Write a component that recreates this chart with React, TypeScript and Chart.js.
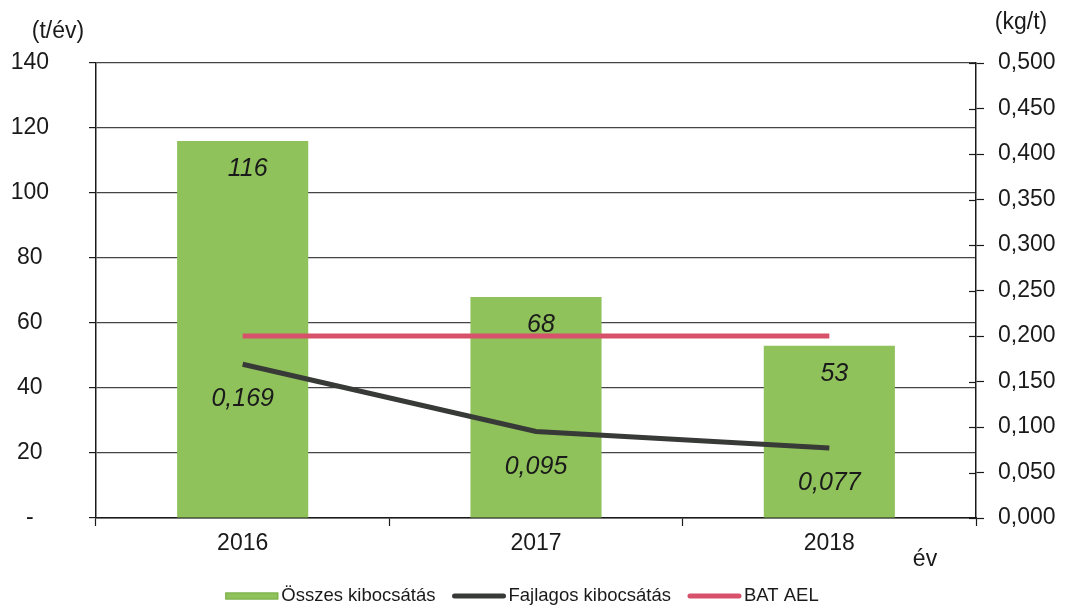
import React, { useEffect, useRef } from 'react';
import { Chart, registerables } from 'chart.js';

Chart.register(...registerables);

const years = ['2016', '2017', '2018'];
const osszesKibocsatas = [116, 68, 53];
const fajlagosKibocsatas = [0.169, 0.095, 0.077];
const batAel = [0.2, 0.2, 0.2];
const seriesNames = ['Összes kibocsátás', 'Fajlagos kibocsátás', 'BAT AEL'];
const leftAxisTitle = '(t/év)';
const rightAxisTitle = '(kg/t)';
const xAxisTitle = 'év';

const FONT = '"Liberation Sans", Arial, sans-serif';
const GREEN = '#8fc25b';
const BLACK = '#383a38';
const RED = '#d8516b';
const INK = '#1a1a1a';

const fmt3 = (v: number) => v.toFixed(3).replace('.', ',');

const annotatePlugin = {
  id: 'annotate',
  afterDatasetsDraw(chart: any) {
    const ctx = chart.ctx;
    ctx.save();
    ctx.font = `italic 25px ${FONT}`;
    ctx.fillStyle = INK;
    ctx.textAlign = 'center';
    ctx.textBaseline = 'middle';
    const barMeta = chart.getDatasetMeta(0);
    barMeta.data.forEach((el: any, i: number) => {
      ctx.fillText(String(osszesKibocsatas[i]), el.x + 5, el.y + 28);
    });
    const lineMeta = chart.getDatasetMeta(1);
    lineMeta.data.forEach((el: any, i: number) => {
      ctx.fillText(fmt3(fajlagosKibocsatas[i]), el.x, el.y + 35);
    });
    ctx.restore();
  },
  afterDraw(chart: any) {
    const ctx = chart.ctx;
    const area = chart.chartArea;
    ctx.save();
    // inner tick marks on right axis
    const y1 = chart.scales.y1;
    ctx.strokeStyle = INK;
    ctx.lineWidth = 1.2;
    y1.ticks.forEach((t: any) => {
      const py = Math.round(y1.getPixelForValue(t.value)) + 0.5;
      ctx.beginPath();
      ctx.moveTo(area.right - 7, py);
      ctx.lineTo(area.right, py);
      ctx.stroke();
    });
    // axis titles
    ctx.fillStyle = INK;
    ctx.font = `23px ${FONT}`;
    ctx.textAlign = 'center';
    ctx.textBaseline = 'middle';
    ctx.fillText(leftAxisTitle, 58, 32);
    ctx.fillText(rightAxisTitle, 1021, 23);
    ctx.fillText(xAxisTitle, 925, 560);
    // legend
    ctx.font = `18.5px ${FONT}`;
    ctx.textAlign = 'left';
    const sw = 53, gapText = 3, gapItem = 17;
    const colors = [GREEN, BLACK, RED];
    const widths = seriesNames.map((n) => ctx.measureText(n).width);
    const total = widths.reduce((a, b) => a + b, 0) + 3 * (sw + gapText) + 2 * gapItem;
    let x = 522 - total / 2;
    const cy = 596;
    seriesNames.forEach((name, i) => {
      if (i === 0) {
        ctx.fillStyle = colors[i];
        ctx.fillRect(x, cy - 3.5, sw, 7);
        ctx.strokeStyle = '#7aae4a';
        ctx.lineWidth = 1;
        ctx.strokeRect(x + 0.5, cy - 3, sw - 1, 6);
      } else {
        ctx.strokeStyle = colors[i];
        ctx.lineWidth = 5;
        ctx.lineCap = 'round';
        ctx.beginPath();
        ctx.moveTo(x + 2, cy);
        ctx.lineTo(x + sw - 2, cy);
        ctx.stroke();
      }
      ctx.fillStyle = INK;
      ctx.fillText(name, x + sw + gapText, cy);
      x += sw + gapText + widths[i] + gapItem;
    });
    ctx.restore();
  },
};

export default function App() {
  const canvasRef = useRef<HTMLCanvasElement | null>(null);

  useEffect(() => {
    if (!canvasRef.current) return;
    const chart = new Chart(canvasRef.current, {
      type: 'bar',
      data: {
        labels: years,
        datasets: [
          {
            type: 'bar',
            label: seriesNames[0],
            data: osszesKibocsatas,
            backgroundColor: GREEN,
            borderWidth: 0,
            yAxisID: 'y',
            order: 2,
            barPercentage: 0.447,
            categoryPercentage: 1,
          },
          {
            type: 'line',
            label: seriesNames[1],
            data: fajlagosKibocsatas,
            borderColor: BLACK,
            backgroundColor: BLACK,
            borderWidth: 5,
            pointRadius: 0,
            tension: 0,
            yAxisID: 'y1',
            order: 1,
          },
          {
            type: 'line',
            label: seriesNames[2],
            data: batAel,
            borderColor: RED,
            backgroundColor: RED,
            borderWidth: 5,
            pointRadius: 0,
            tension: 0,
            yAxisID: 'y1',
            order: 0,
          },
        ],
      } as any,
      options: {
        responsive: false,
        animation: false,
        layout: { padding: { left: 0, right: 0, top: 63, bottom: 48 } },
        plugins: {
          legend: { display: false },
          tooltip: { enabled: false },
          title: { display: false },
        },
        scales: {
          x: {
            offset: true,
            grid: {
              display: true,
              drawOnChartArea: false,
              drawTicks: true,
              tickLength: 8,
              tickColor: INK,
              tickWidth: 1.2,
              offset: true,
            },
            border: { display: true, color: INK, width: 1.5 },
            ticks: {
              color: INK,
              font: { family: FONT, size: 23 },
              padding: 4,
              maxRotation: 0,
            },
            afterFit(scale: any) {
              scale.height = 40;
            },
          },
          y: {
            position: 'left',
            min: 0,
            max: 140,
            grid: {
              color: '#444',
              lineWidth: 1.2,
              drawTicks: true,
              tickLength: 7,
              tickColor: INK,
              tickWidth: 1.2,
            },
            border: { display: true, color: INK, width: 1.5 },
            ticks: {
              stepSize: 20,
              color: INK,
              font: { family: FONT, size: 23 },
              crossAlign: 'center',
              padding: 40,
              callback: (v: any) => (Number(v) === 0 ? '-' : String(v)),
            },
            afterFit(scale: any) {
              scale.width = 96;
            },
          },
          y1: {
            position: 'right',
            min: 0,
            max: 0.5,
            grid: {
              drawOnChartArea: false,
              drawTicks: true,
              tickLength: 8,
              tickColor: INK,
              tickWidth: 1.2,
            },
            border: { display: true, color: INK, width: 1.5 },
            ticks: {
              stepSize: 0.05,
              color: INK,
              font: { family: FONT, size: 23 },
              padding: 14,
              callback: (v: any) => fmt3(Number(v)),
            },
            afterFit(scale: any) {
              scale.width = 1065 - 976;
            },
          },
        },
      } as any,
      plugins: [annotatePlugin],
    });
    return () => chart.destroy();
  }, []);

  return (
    <div style={{ position: 'absolute', left: 0, top: 0, width: 1065, height: 606, background: '#fff' }}>
      <canvas ref={canvasRef} width={1065} height={606} style={{ display: 'block' }} />
    </div>
  );
}
